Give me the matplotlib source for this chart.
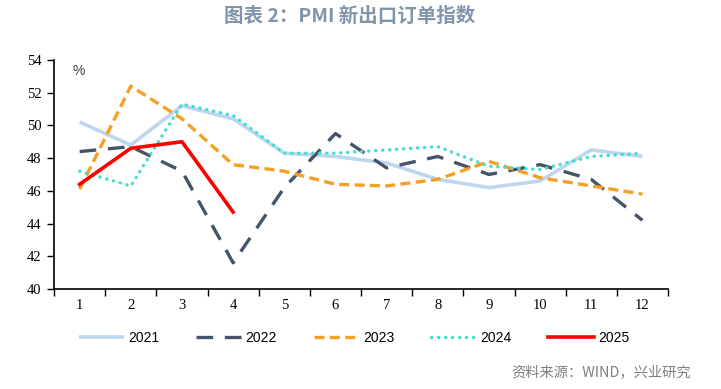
import matplotlib.pyplot as plt
import numpy as np

months = list(range(1, 13))
y2021 = [50.2, 48.8, 51.2, 50.4, 48.3, 48.1, 47.7, 46.7, 46.2, 46.6, 48.5, 48.1]
y2022 = [48.4, 48.7, 47.2, 41.6, 46.2, 49.5, 47.4, 48.1, 47.0, 47.6, 46.7, 44.2]
y2023 = [46.1, 52.4, 50.4, 47.6, 47.2, 46.4, 46.3, 46.7, 47.8, 46.8, 46.3, 45.8]
y2024 = [47.2, 46.3, 51.3, 50.6, 48.3, 48.3, 48.5, 48.7, 47.5, 47.3, 48.1, 48.3]
y2025 = [46.4, 48.6, 49.0, 44.7]

plt.rcParams['font.family'] = ['Noto Sans CJK SC', 'DejaVu Sans']

fig = plt.figure(figsize=(7.21, 3.89), dpi=100)
ax = fig.add_axes([0.075, 0.257, 0.8515, 0.589])

ax.plot(months, y2021, color='#bdd7ee', lw=2.6, label='2021', solid_capstyle='butt')
ax.plot(months, y2022, color='#44546a', lw=2.4, ls=(0, (5, 3.5)), label='2022')
ax.plot(months, y2023, color='#f5a022', lw=2.4, ls=(0, (3, 1.6)), label='2023')
ax.plot(months, y2024, color='#45dcd4', lw=2.4, ls=(0, (0.1, 2.0)),
        dash_capstyle='round', label='2024')
ax.plot(months[:len(y2025)], y2025, color='#ff0000', lw=2.6, label='2025')

ax.set_xlim(0.5, 12.5)
ax.set_ylim(40, 54)
ax.set_yticks(np.arange(40, 55, 2))
ax.set_xticks(np.arange(0.5, 13, 1))
ax.set_xticklabels([])
ax.set_xticks(months, minor=True)
ax.set_xticklabels([str(m) for m in months], minor=True)
ax.tick_params(axis='x', which='minor', length=0, pad=7)
ax.tick_params(axis='x', which='major', length=5, direction='out', width=1)
ax.tick_params(axis='y', length=5, direction='out', width=1, pad=4)
for lab in ax.get_xticklabels(minor=True) + ax.get_yticklabels():
    lab.set_fontfamily('Liberation Serif')
    lab.set_fontsize(10.5)
for s in ['top', 'right']:
    ax.spines[s].set_visible(False)
for s in ['left', 'bottom']:
    ax.spines[s].set_linewidth(1.2)

ax.text(0.03, 0.95, '%', transform=ax.transAxes, fontsize=10,
        color='#404040', family='Liberation Sans', va='center')

leg = fig.legend(loc='center', bbox_to_anchor=(0.491, 0.131), ncol=5, frameon=False,
                 prop={'family': 'Liberation Sans', 'size': 10},
                 handlelength=3.25, columnspacing=2.65, handletextpad=0.3)

fig.text(0.485, 0.959, '图表 2：PMI 新出口订单指数', ha='center', va='center',
         fontsize=14, fontweight='bold', color='#8094ab')
fig.text(0.958, 0.044, '资料来源：WIND，兴业研究', ha='right', va='center',
         fontsize=10.3, color='#7f7f7f')

fig.savefig('out.png', dpi=100)
